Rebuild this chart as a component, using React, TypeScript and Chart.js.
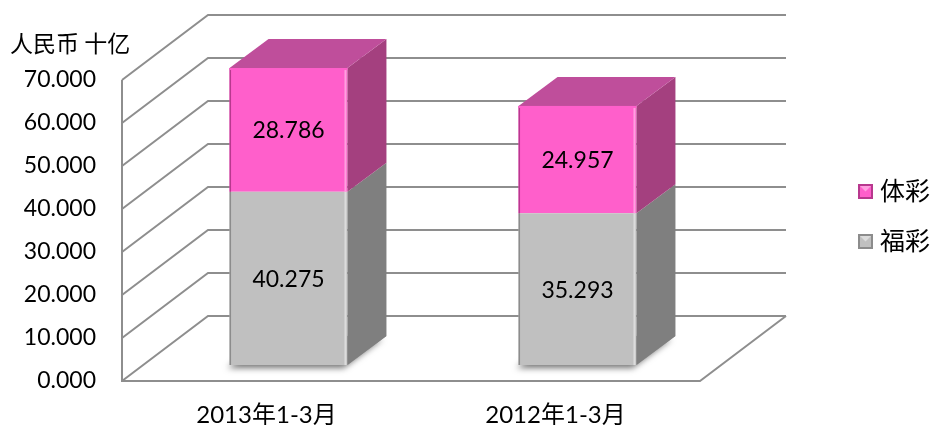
import React, { useEffect, useRef } from 'react';
import { Chart, registerables } from 'chart.js';

Chart.register(...registerables);

// ---- data ----
const categories = ['2013年1-3月', '2012年1-3月'];
const fucaiValues = [40.275, 35.293];
const ticaiValues = [28.786, 24.957];
const fucaiLabel = '福彩';
const ticaiLabel = '体彩';
const yMin = 0;
const yMax = 70;
const yStep = 10;
const unitLabel = '人民币 十亿';

// ---- styling (3D look) ----
const FLOOR_DX = 86;
const FLOOR_DY = 65;
const BAR_SHIFT_X = 22;
const BAR_SHIFT_Y = 16;
const BAR_DX = 39;
const BAR_DY = 29;
const LATIN = 'Lato, "Noto Sans CJK SC", sans-serif';
const CJK = '"Noto Sans CJK SC", sans-serif';

const faceColors: Record<string, { front: string; side: string; top: string; light: string; dark: string }> = {
  fucai: { front: '#C0C0C0', side: '#7F7F7F', top: '#A6A6A6', light: '#DCDCDC', dark: '#8C8C8C' },
  ticai: { front: '#FF5FCB', side: '#A4407F', top: '#BF4E9B', light: '#FF9FE0', dark: '#B8388E' },
};

const threeDPlugin = {
  id: 'threeD',
  beforeDatasetsDraw(chart: any) {
    const { ctx, chartArea, scales } = chart;
    const ys = scales.y;
    const left = chartArea.left;
    const right = chartArea.right;
    const y0 = ys.getPixelForValue(yMin);
    ctx.save();
    ctx.strokeStyle = '#8E8E8E';
    ctx.lineWidth = 2;
    ctx.lineJoin = 'miter';
    ctx.beginPath();
    ctx.moveTo(left, ys.getPixelForValue(yMax));
    ctx.lineTo(left, y0);
    ctx.lineTo(right, y0);
    ctx.lineTo(right + FLOOR_DX, y0 - FLOOR_DY);
    ctx.stroke();
    ys.ticks.forEach((t: any) => {
      const py = ys.getPixelForValue(t.value);
      ctx.beginPath();
      ctx.moveTo(left, py);
      ctx.lineTo(left + FLOOR_DX, py - FLOOR_DY);
      ctx.lineTo(right + FLOOR_DX, py - FLOOR_DY);
      ctx.stroke();
    });
    ctx.restore();

    ctx.save();
    ctx.translate(BAR_SHIFT_X, -BAR_SHIFT_Y);
    const metas = chart.getSortedVisibleDatasetMetas();
    if (metas.length) {
      metas[0].data.forEach((bar: any) => {
        const { x, base, width } = bar.getProps(['x', 'base', 'width'], true);
        const xl = x - width / 2;
        ctx.save();
        ctx.shadowColor = 'rgba(0,0,0,0.55)';
        ctx.shadowBlur = 6;
        ctx.shadowOffsetX = -4;
        ctx.shadowOffsetY = 3;
        ctx.fillStyle = '#9a9a9a';
        ctx.beginPath();
        ctx.moveTo(xl + 2, base);
        ctx.lineTo(xl + width, base);
        ctx.lineTo(xl + width + BAR_DX, base - BAR_DY);
        ctx.lineTo(xl + BAR_DX, base - BAR_DY);
        ctx.closePath();
        ctx.fill();
        ctx.restore();
      });
    }
  },
  afterDatasetsDraw(chart: any) {
    const { ctx } = chart;
    const metas = chart.getSortedVisibleDatasetMetas();
    metas.forEach((meta: any, mi: number) => {
      const ds = chart.data.datasets[meta.index];
      const c = faceColors[ds.faceKey];
      const isTop = mi === metas.length - 1;
      meta.data.forEach((bar: any) => {
        const { x, y, base, width } = bar.getProps(['x', 'y', 'base', 'width'], true);
        const xl = x - width / 2;
        const xr = x + width / 2;
        ctx.fillStyle = c.side;
        ctx.beginPath();
        ctx.moveTo(xr, y);
        ctx.lineTo(xr + BAR_DX, y - BAR_DY);
        ctx.lineTo(xr + BAR_DX, base - BAR_DY);
        ctx.lineTo(xr, base);
        ctx.closePath();
        ctx.fill();
        ctx.fillStyle = c.dark;
        ctx.fillRect(xl, y, 1.5, base - y);
        ctx.fillStyle = c.light;
        ctx.fillRect(xr - 3, y, 2, base - y);
        if (isTop) {
          ctx.fillStyle = c.top;
          ctx.beginPath();
          ctx.moveTo(xl, y);
          ctx.lineTo(xr, y);
          ctx.lineTo(xr + BAR_DX, y - BAR_DY);
          ctx.lineTo(xl + BAR_DX, y - BAR_DY);
          ctx.closePath();
          ctx.fill();
          ctx.fillStyle = c.front;
          ctx.fillRect(xl, y, width, 2);
        }
      });
    });
    ctx.fillStyle = '#000';
    ctx.font = `23px ${LATIN}`;
    ctx.textAlign = 'center';
    ctx.textBaseline = 'middle';
    metas.forEach((meta: any) => {
      const ds = chart.data.datasets[meta.index];
      meta.data.forEach((bar: any, i: number) => {
        const { x, y, base } = bar.getProps(['x', 'y', 'base'], true);
        ctx.fillText(Number(ds.data[i]).toFixed(3), x, (y + base) / 2 + 1);
      });
    });
    ctx.restore();
  },
  afterDraw(chart: any) {
    const { ctx } = chart;
    ctx.save();
    ctx.fillStyle = '#000';
    ctx.font = `23px ${CJK}`;
    ctx.textAlign = 'left';
    ctx.textBaseline = 'middle';
    ctx.fillText(unitLabel, 10, 43);
    const items = [...chart.data.datasets].reverse();
    const bx = chart.width - 76;
    items.forEach((ds: any, i: number) => {
      const c = faceColors[ds.faceKey];
      const cy = 191.5 + i * 50;
      const s = 15;
      const top = cy - s / 2;
      ctx.fillStyle = c.dark;
      ctx.fillRect(bx, top, s, s);
      ctx.fillStyle = c.front;
      ctx.fillRect(bx + 2, top + 2, s - 4, s - 4);
      ctx.fillStyle = c.light;
      ctx.beginPath();
      ctx.moveTo(bx + 2, top + 2);
      ctx.lineTo(bx + s - 2, top + 2);
      ctx.lineTo(bx + s / 2, top + s / 2);
      ctx.closePath();
      ctx.fill();
      ctx.fillStyle = '#000';
      ctx.font = `25px ${CJK}`;
      ctx.fillText(ds.label, bx + 22, cy - 1);
    });
    ctx.restore();
  },
};

export default function App() {
  const canvasRef = useRef<HTMLCanvasElement | null>(null);

  useEffect(() => {
    if (!canvasRef.current) return;
    const chart = new Chart(canvasRef.current, {
      type: 'bar',
      data: {
        labels: categories,
        datasets: [
          {
            label: fucaiLabel,
            data: fucaiValues,
            backgroundColor: faceColors.fucai.front,
            borderWidth: 0,
            faceKey: 'fucai',
          } as any,
          {
            label: ticaiLabel,
            data: ticaiValues,
            backgroundColor: faceColors.ticai.front,
            borderWidth: 0,
            faceKey: 'ticai',
          } as any,
        ],
      },
      options: {
        animation: false,
        responsive: true,
        maintainAspectRatio: false,
        layout: { padding: { top: 80, right: 234, bottom: 0, left: 0 } },
        datasets: { bar: { categoryPercentage: 1, barPercentage: 0.408, clip: false as any } },
        plugins: {
          legend: { display: false },
          title: { display: false },
          tooltip: { enabled: false },
        },
        scales: {
          x: {
            stacked: true,
            grid: { display: false, drawTicks: false },
            border: { display: false },
            ticks: { padding: 20, color: '#000', font: { family: LATIN, size: 24 } },
            afterFit: (s: any) => {
              s.height = 44;
            },
          },
          y: {
            stacked: true,
            min: yMin,
            max: yMax,
            grid: { display: false, drawTicks: false },
            border: { display: false },
            ticks: {
              stepSize: yStep,
              padding: 26,
              color: '#000',
              font: { family: LATIN, size: 23 },
              callback: (v: any) => Number(v).toFixed(3),
            },
            afterFit: (s: any) => {
              s.width = 122;
            },
          },
        },
      },
      plugins: [threeDPlugin],
    });
    return () => chart.destroy();
  }, []);

  return (
    <div style={{ position: 'fixed', left: 0, top: 0, width: 934, height: 425, background: '#fff' }}>
      <canvas ref={canvasRef} />
    </div>
  );
}
